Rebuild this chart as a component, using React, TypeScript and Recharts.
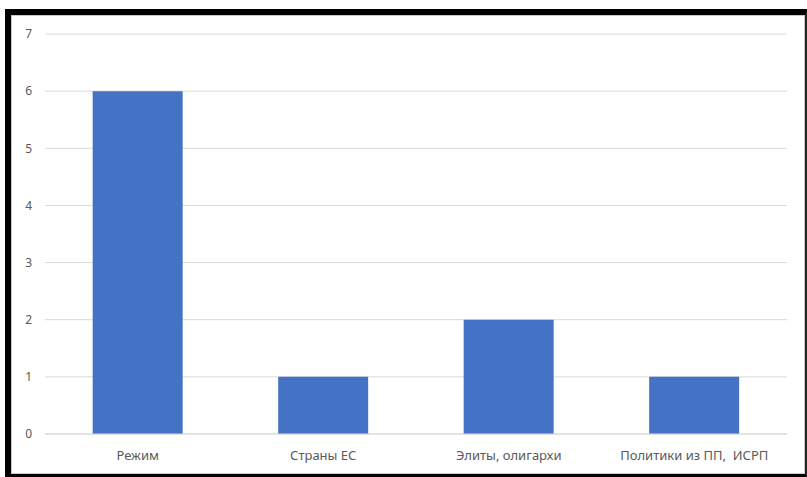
import React from "react";
import { BarChart, Bar, XAxis, YAxis, CartesianGrid } from "recharts";

const categories = ["Режим", "Страны ЕС", "Элиты, олигархи", "Политики из ПП,\u00a0 ИСРП"];
const values = [6, 1, 2, 1];
const yTicks = [0, 1, 2, 3, 4, 5, 6, 7];
const boundaryTicks = [0, 1, 2, 3, 4];

const data = categories.map((name, i) => ({ name, value: values[i], pos: i + 0.5 }));

const font = "'Noto Sans', 'Open Sans', sans-serif";

export default function App() {
  return (
    <div style={{ position: "fixed", left: 0, top: 0, width: 807, height: 477, background: "#fff", overflow: "hidden" }}>
      <div
        style={{
          position: "absolute",
          left: 5,
          top: 9,
          width: 802,
          height: 468,
          boxSizing: "border-box",
          borderLeft: "6px solid #000",
          borderTop: "6px solid #000",
          borderBottom: "3px solid #000",
          borderRight: "2px solid #222",
        }}
      >
        <div style={{ position: "absolute", inset: 0, border: "1px solid #c8c8c8" }} />
      </div>
      <div style={{ position: "absolute", left: 0, top: 0 }}>
        <BarChart
          width={807}
          height={477}
          data={data}
          margin={{ top: 34, right: 20, left: 0, bottom: 13 }}
          barCategoryGap="25.7%"
        >
          <CartesianGrid vertical={false} stroke="#d9d9d9" xAxisId="cat" />
          <XAxis
            xAxisId="bnd"
            type="number"
            dataKey="pos"
            domain={[0, 4]}
            ticks={boundaryTicks}
            tick={false}
            axisLine={false}
            tickLine={{ stroke: "#d0d0d0" }}
            tickSize={5}
            height={0}
          />
          <XAxis
            xAxisId="cat"
            dataKey="name"
            tickLine={false}
            axisLine={{ stroke: "#d9d9d9" }}
            tick={{ fill: "#595959", fontSize: 13, fontFamily: font }}
            tickMargin={11}
            interval={0}
            height={30}
          />
          <YAxis
            domain={[0, 7]}
            ticks={yTicks}
            axisLine={false}
            tickLine={false}
            tickMargin={7}
            width={45}
            tick={{ fill: "#595959", fontSize: 12, fontFamily: font }}
          />
          <Bar xAxisId="cat" dataKey="value" fill="#4472C4" isAnimationActive={false} />
        </BarChart>
      </div>
    </div>
  );
}
